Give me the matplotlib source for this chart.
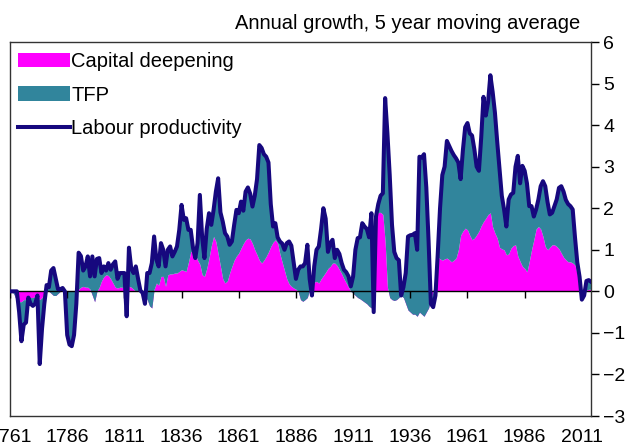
import numpy as np
import matplotlib.pyplot as plt

plt.rcParams['font.family'] = ['Liberation Sans', 'DejaVu Sans']

years = np.arange(1761, 2016)

# labour productivity, annual growth (5 year moving average), 1761-2015
labour_productivity = [
    0.0, 0.0, 0.0, 0.0, -0.5, -1.2, -0.8, -0.75, -0.15,                      # 1761-1769
    -0.3, -0.35, -0.3, -0.1, -1.75, -0.9, -0.3, 0.15, 0.1, 0.5,             # 1770s
    0.56, 0.3, 0.05, 0.05, 0.08, 0.0, -1.05, -1.28, -1.32, -1.05,           # 1780s
    -0.3, 0.93, 0.85, 0.5, 0.6, 0.84, 0.36, 0.84, 0.36, 0.78,               # 1790s
    0.8, 0.44, 0.6, 0.5, 0.68, 0.52, 0.65, 0.72, 0.3, 0.44,                 # 1800s
    0.44, 0.44, -0.6, 1.05, 0.55, 0.44, 0.6, 0.3, 0.02, -0.04,              # 1810s
    -0.3, 0.44, 0.44, 0.68, 1.32, 0.76, 0.6, 1.16, 1.0, 0.6,                # 1820s
    1.0, 1.08, 0.84, 0.95, 1.08, 1.48, 2.08, 1.72, 1.76, 1.48,              # 1830s
    1.48, 1.05, 0.8, 1.16, 2.32, 1.3, 0.8, 1.5, 1.88, 1.6,                  # 1840s
    1.96, 2.4, 2.72, 1.9, 1.68, 1.4, 1.32, 1.12, 1.2, 1.6,                  # 1850s
    1.96, 1.88, 2.16, 1.94, 2.4, 2.5, 2.35, 2.04, 2.3, 2.7,                 # 1860s
    3.52, 3.45, 3.3, 3.24, 3.1, 2.1, 1.56, 1.64, 1.3, 1.2,                  # 1870s
    1.15, 1.0, 1.16, 1.2, 1.1, 0.7, 0.3, 0.52, 0.6, 0.6,                    # 1880s
    0.68, 1.12, 0.3, -0.1, 0.6, 1.0, 1.08, 1.5, 2.0, 1.75,                  # 1890s
    0.95, 1.16, 1.24, 0.8, 1.0, 0.9, 0.68, 0.52, 0.46, 0.36,                # 1900s
    0.12, 0.36, 1.0, 1.28, 1.3, 1.64, 1.56, 1.5, 1.3, 1.88,                 # 1910s
    -0.5, 1.8, 2.1, 2.3, 2.36, 4.65, 3.8, 2.8, 1.6, 0.95,                   # 1920s
    0.8, 0.75, -0.1, 0.1, 0.44, 1.32, 1.35, 1.36, 1.4, 1.0,                 # 1930s
    3.24, 3.22, 3.3, 2.5, 1.2, -0.3, -0.38, -0.1, 0.9, 2.0,                 # 1940s
    2.8, 3.0, 3.62, 3.5, 3.38, 3.28, 3.2, 3.1, 2.7, 3.4,                    # 1950s
    3.95, 4.05, 3.8, 3.75, 3.42, 3.0, 2.9, 3.7, 4.68, 4.23,                 # 1960s
    4.55, 5.2, 4.8, 4.3, 3.6, 2.95, 2.3, 1.97, 1.56, 2.21,                  # 1970s
    2.33, 2.37, 3.0, 3.26, 2.6, 3.02, 2.9, 2.6, 2.05, 2.05,                 # 1980s
    1.8, 1.97, 2.21, 2.53, 2.65, 2.53, 2.15, 1.85, 1.89, 2.05,              # 1990s
    2.21, 2.49, 2.53, 2.4, 2.2, 2.1, 2.05, 1.97, 1.3, 0.7,                  # 2000s
    0.35, -0.2, -0.1, 0.25, 0.27, 0.23,                                     # 2010-2015
]

# capital deepening contribution, 1761-2015
capital_deepening = [
    0.0, 0.0, -0.1, -0.25, -0.25, -0.25, -0.2, -0.2, -0.15,                 # 1761-1769
    -0.15, -0.15, -0.12, -0.15, -0.2, -0.15, -0.05, 0.0, 0.0, -0.05,        # 1770s
    -0.1, -0.1, -0.05, 0.0, 0.0, 0.0, 0.0, 0.0, 0.0, 0.0,                   # 1780s
    0.0, 0.05, 0.1, 0.12, 0.1, 0.1, 0.05, -0.1, -0.25, 0.0,                 # 1790s
    0.1, 0.25, 0.35, 0.4, 0.38, 0.3, 0.2, 0.1, 0.08, 0.1,                   # 1800s
    0.1, 0.05, 0.1, 0.12, 0.1, 0.05, 0.0, 0.0, 0.0, -0.05,                  # 1810s
    -0.1, -0.2, -0.35, -0.4, 0.05, 0.2, 0.15, 0.36, 0.36, 0.12,             # 1820s
    0.4, 0.42, 0.42, 0.44, 0.44, 0.48, 0.52, 0.5, 0.48, 0.7,                # 1830s
    0.95, 1.0, 0.9, 0.75, 0.65, 0.4, 0.36, 0.55, 0.8, 1.1,                  # 1840s
    1.32, 1.2, 0.9, 0.6, 0.3, 0.2, 0.25, 0.44, 0.6, 0.75,                   # 1850s
    0.85, 0.92, 1.04, 1.15, 1.24, 1.28, 1.26, 1.15, 1.0, 0.88,              # 1860s
    0.75, 0.68, 0.75, 0.84, 0.95, 1.08, 1.18, 1.24, 1.16, 0.9,              # 1870s
    0.7, 0.5, 0.3, 0.18, 0.12, 0.08, 0.05, 0.0, -0.2, -0.24,                # 1880s
    -0.2, -0.15, 0.05, 0.2, 0.22, 0.24, 0.2, 0.3, 0.38, 0.46,               # 1890s
    0.55, 0.6, 0.68, 0.68, 0.62, 0.52, 0.42, 0.3, 0.2, 0.1,                 # 1900s
    0.0, -0.05, -0.1, -0.15, -0.18, -0.22, -0.26, -0.3, -0.36, -0.4,        # 1910s
    -0.2, 1.8, 1.9, 1.9, 1.85, 1.2, 0.1, -0.15, -0.2, -0.22,                # 1920s
    -0.2, -0.15, -0.1, -0.15, -0.3, -0.45, -0.5, -0.55, -0.55, -0.6,        # 1930s
    -0.5, -0.55, -0.6, -0.5, -0.4, -0.2, 0.0, 0.4, 0.83, 0.78,              # 1940s
    0.75, 0.78, 0.8, 0.76, 0.71, 0.75, 0.8, 1.0, 1.35, 1.45,                # 1950s
    1.52, 1.48, 1.35, 1.24, 1.28, 1.36, 1.45, 1.58, 1.68, 1.76,             # 1960s
    1.85, 1.89, 1.55, 1.4, 1.28, 1.06, 1.02, 1.0, 0.88, 0.9,                # 1970s
    1.04, 1.1, 1.12, 0.85, 0.72, 0.6, 0.55, 0.47, 0.72, 1.0,                # 1980s
    1.24, 1.5, 1.56, 1.5, 1.32, 1.08, 1.0, 1.06, 1.12, 1.12,                # 1990s
    1.08, 1.02, 0.92, 0.82, 0.76, 0.71, 0.71, 0.68, 0.63, 0.4,              # 2000s
    0.2, 0.02, 0.02, 0.03, 0.05, 0.05,                                      # 2010-2015
]

tick_years = [1761, 1786, 1811, 1836, 1861, 1886, 1911, 1936, 1961, 1986, 2011]
y_ticks = [-3, -2, -1, 0, 1, 2, 3, 4, 5, 6]

lp = np.array(labour_productivity)
cd = np.array(capital_deepening)
tfp = lp - cd

fig = plt.figure(figsize=(6.26, 4.48), dpi=100)
ax = fig.add_axes([10 / 626, 32 / 448, 581 / 626, 374 / 448])

# stacked areas: capital deepening from zero, TFP on top of it
ax.fill_between(years, 0, cd, color='#ff00ff', lw=0, label='Capital deepening')
ax.fill_between(years, cd, cd + tfp, color='#31859c', lw=0, label='TFP')
ax.axhline(0, color='black', lw=1, zorder=3)
ax.plot(tick_years, np.zeros(len(tick_years)), ls='none', marker=3,
        ms=5, mew=1, color='black', zorder=3)
ax.plot(years, lp, color='#16087e', lw=2.9, label='Labour productivity', zorder=4)

ax.set_xlim(1761, 2015)
ax.set_ylim(-3, 6)
ax.set_xticks(tick_years)
ax.set_xticklabels([str(y) for y in tick_years])
ax.tick_params(axis='x', length=0, pad=9, labelsize=14)
ax.yaxis.tick_right()
ax.set_yticks(y_ticks)
ax.tick_params(axis='y', direction='out', length=6, width=1, pad=3, labelsize=14)
for s in ax.spines.values():
    s.set_color('#333333')
    s.set_linewidth(1)

ax.text(1.0 - 11 / 581, 1.025, 'Annual growth, 5 year moving average',
        transform=ax.transAxes, ha='right', va='bottom', fontsize=14.5)

ax.legend(loc='upper left', bbox_to_anchor=(-0.004, 1.0), frameon=False,
          fontsize=14.5, handlelength=2.6, handletextpad=0.05,
          labelspacing=0.72, borderaxespad=0.3, borderpad=0.2)

plt.savefig('out.png', dpi=100)
